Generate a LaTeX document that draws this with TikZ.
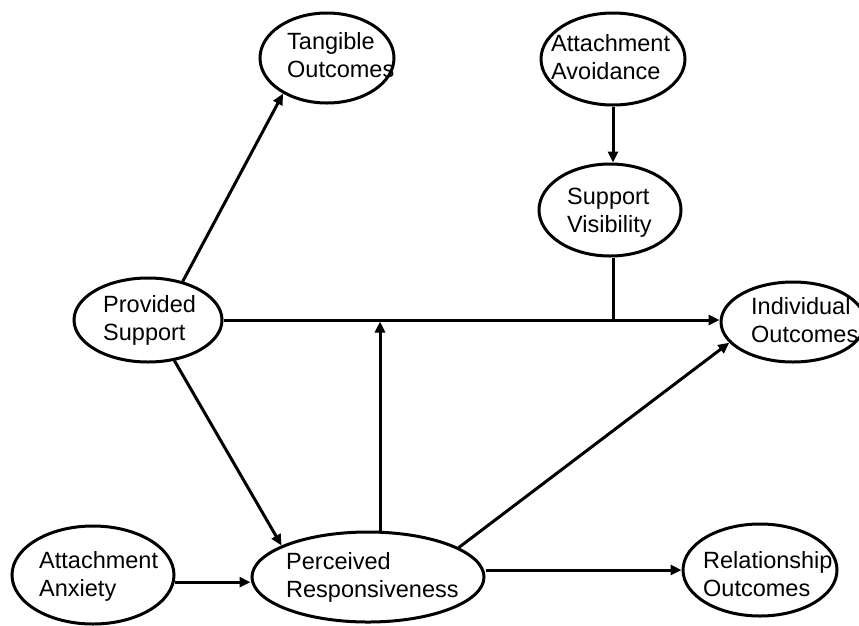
\documentclass[tikz,border=0pt]{standalone}
\usepackage{fontspec}
\setmainfont{Liberation Sans}
\usetikzlibrary{shapes.geometric,arrows.meta}
\begin{document}
\begin{tikzpicture}[x=1pt,y=-1pt,
  ell/.style={draw,ellipse,line width=3pt,inner sep=0pt},
  lbl/.style={anchor=base west,align=left,inner sep=0pt,font=\fontsize{23.5}{28}\selectfont},
  conn/.style={line width=3pt},
  arr/.style={line width=3pt,-{Triangle[length=11pt,width=10pt]}}]
\useasboundingbox (0,0) rectangle (859,625);
% ellipses
\node[ell,minimum width=134pt,minimum height=90pt] (tang) at (327,58) {};
\node[ell,minimum width=144pt,minimum height=92pt] (avoid) at (613,59) {};
\node[ell,minimum width=142pt,minimum height=92pt] (vis) at (610,210) {};
\node[ell,minimum width=148pt,minimum height=84pt] (prov) at (148,320) {};
\node[ell,minimum width=144pt,minimum height=80pt] (ind) at (793,322) {};
\node[ell,minimum width=162pt,minimum height=98pt] (anx) at (93,575) {};
\node[ell,minimum width=232pt,minimum height=90pt] (perc) at (368,577) {};
\node[ell,minimum width=154pt,minimum height=92pt] (rel) at (760,570) {};
% texts (anchor = baseline of the last line)
\node[lbl] (tangT) at (287,77) {Tangible\\Outcomes};
\node[lbl] (avoidT) at (551,79) {Attachment\\Avoidance};
\node[lbl] (visT) at (567,232) {Support\\Visibility};
\node[lbl] (provT) at (103,340) {Provided\\Support};
\node[lbl] (indT) at (751,342) {Individual\\Outcomes};
\node[lbl] (anxT) at (39,596) {Attachment\\Anxiety};
\node[lbl] (percT) at (286,597) {Perceived\\Responsiveness};
\node[lbl] (relT) at (703,596) {Relationship\\Outcomes};
% junctions
\coordinate (jv) at (avoid.south |- prov.east);
\coordinate (jp) at (380,321.5);
% connectors
\draw[arr] (prov.48) -- (tang.219);
\draw[arr] (avoid.south) -- (avoid.south |- vis.north);
\draw[conn] (vis.south -| jv) -- (jv);
\draw[arr] (prov.east) -- (prov.east -| ind.west);
\draw[arr] (perc.north -| jp) -- (jp);
\draw[arr] (prov.-57) -- (perc.160);
\draw[arr] (anx.-5) -- (anx.-5 -| perc.west);
\draw[arr] (perc.18) -- (ind.198);
\draw[arr] (perc.east |- rel.west) -- (rel.west);
\end{tikzpicture}
\end{document}
